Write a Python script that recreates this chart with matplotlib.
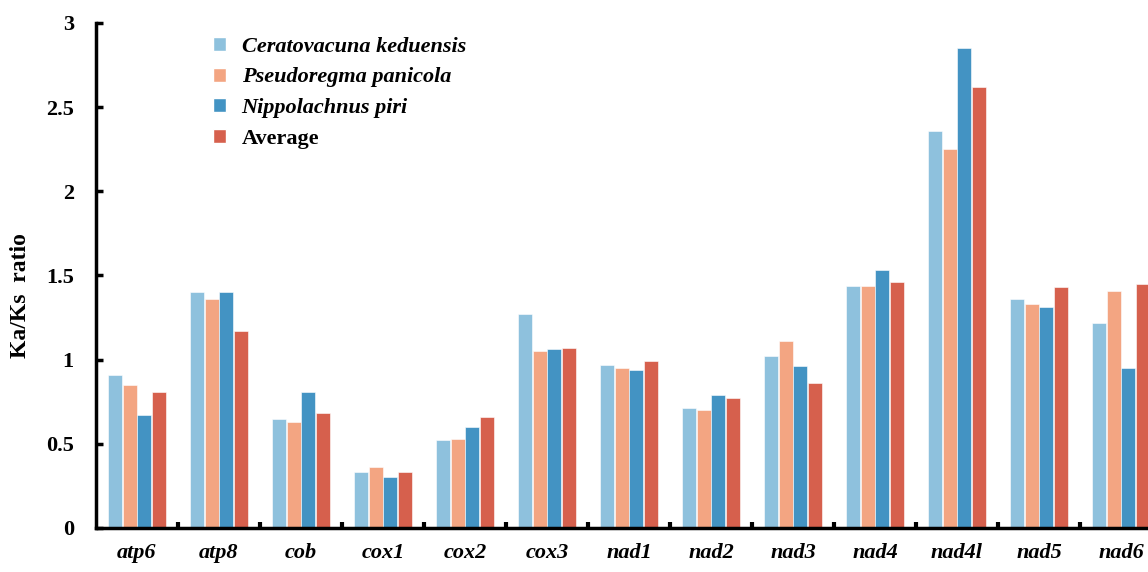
import numpy as np
import matplotlib.pyplot as plt
from matplotlib.patches import Patch

genes = ["atp6", "atp8", "cob", "cox1", "cox2", "cox3", "nad1",
         "nad2", "nad3", "nad4", "nad4l", "nad5", "nad6"]
series_names = ["Ceratovacuna keduensis", "Pseudoregma panicola",
                "Nippolachnus piri", "Average"]
ceratovacuna = [0.91, 1.40, 0.65, 0.33, 0.52, 1.27, 0.97, 0.71, 1.02, 1.44, 2.36, 1.36, 1.22]
pseudoregma = [0.85, 1.36, 0.63, 0.36, 0.53, 1.05, 0.95, 0.70, 1.11, 1.44, 2.25, 1.33, 1.41]
nippolachnus = [0.67, 1.40, 0.81, 0.30, 0.60, 1.06, 0.94, 0.79, 0.96, 1.53, 2.85, 1.31, 0.95]
average = [0.81, 1.17, 0.68, 0.33, 0.66, 1.07, 0.99, 0.77, 0.86, 1.46, 2.62, 1.43, 1.45]
colors = ["#8EC1DD", "#F3A582", "#4393C3", "#D6604D"]

plt.rcParams["font.family"] = ["Liberation Serif", "DejaVu Serif"]
plt.rcParams["font.weight"] = "bold"

fig = plt.figure(figsize=(11.48, 5.72), dpi=100)
ax = fig.add_axes([0.0836, 0.077, 0.9164, 0.883])

x = np.arange(len(genes))
pitch = 0.177
width = 0.168
data = [ceratovacuna, pseudoregma, nippolachnus, average]
for k, (vals, col) in enumerate(zip(data, colors)):
    ax.bar(x + (k - 1.5) * pitch, vals, width, color=col,
           edgecolor="white", linewidth=0.4)

ax.set_xlim(-0.5, 12.33)
ax.set_ylim(0, 3)
ax.set_yticks([0, 0.5, 1, 1.5, 2, 2.5, 3])
ax.set_yticklabels(["0", "0.5", "1", "1.5", "2", "2.5", "3"], fontsize=16, fontweight="bold")
ax.set_xticks(x)
ax.set_xticklabels(genes, fontsize=16, fontweight="bold", style="italic")
ax.set_xticks(x[:-1] + 0.5, minor=True)
ax.tick_params(axis="x", which="major", length=0, pad=11)
ax.tick_params(axis="x", which="minor", direction="in", length=4, width=3)
ax.tick_params(axis="y", direction="in", length=5, width=2.5, pad=16)

for s in ["top", "right"]:
    ax.spines[s].set_visible(False)
ax.spines["left"].set_linewidth(2.5)
ax.spines["bottom"].set_linewidth(2.5)

ax.set_ylabel("Ka/Ks  ratio", fontsize=17, fontweight="bold")
ax.yaxis.set_label_coords(-0.062, 0.46)

handles = [Patch(facecolor=c, edgecolor="white") for c in colors]
leg = ax.legend(handles, series_names, loc="upper left", bbox_to_anchor=(0.092, 1.012),
                frameon=False, handlelength=0.6, handleheight=0.6, handletextpad=0.7,
                labelspacing=0.48, prop={"size": 16, "weight": "bold"})
for t in leg.get_texts()[:3]:
    t.set_fontstyle("italic")

fig.savefig("out.png", dpi=100)
